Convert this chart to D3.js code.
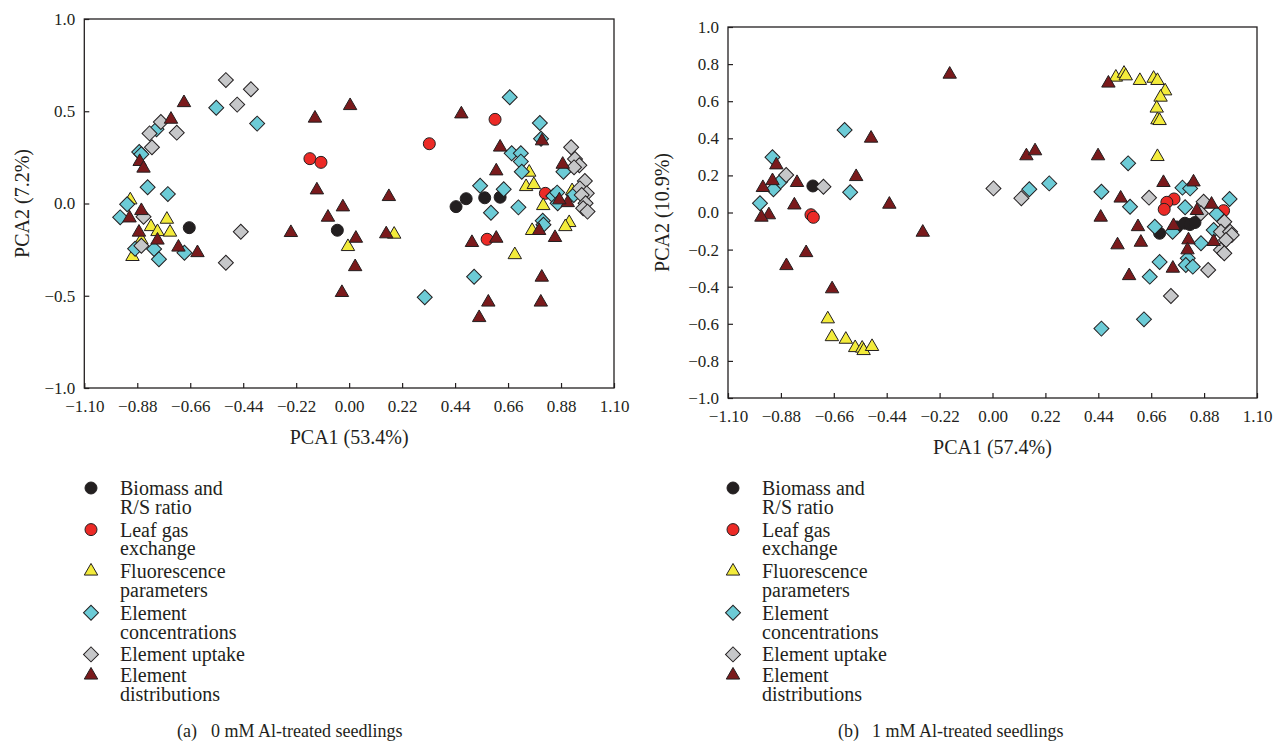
<!DOCTYPE html>
<html>
<head>
<meta charset="utf-8">
<script src="https://cdn.jsdelivr.net/npm/d3@7"></script>
<style>
  body { margin: 0; background: #fff; }
  svg { display: block; font-family: "Liberation Serif", "DejaVu Serif", serif; }
  .tick text { fill: #231f20; font-family: "Liberation Serif", "DejaVu Serif", serif; }
</style>
</head>
<body>
<svg width="1282" height="743"></svg>
<script>
// panel (a): 0 mM Al
const biomassA = [[-0.664,-0.131],[-0.049,-0.145],[0.444,-0.017],[0.486,0.026],[0.563,0.031],[0.627,0.034]];
const leafGasA = [[-0.163,0.243],[-0.117,0.223],[0.333,0.324],[0.606,0.456],[0.815,0.055],[0.573,-0.194]];
const fluorA = [[-0.909,0.019],[-0.757,-0.086],[-0.823,-0.126],[-0.796,-0.153],[-0.744,-0.156],[-0.900,-0.288],
  [-0.863,-0.198],[-0.005,-0.234],[0.187,-0.167],[0.748,0.169],[0.735,0.091],[0.767,0.102],[0.806,-0.012],
  [0.926,0.069],[0.760,-0.147],[0.914,-0.104],[0.898,-0.126],[0.688,-0.278]];
const concA = [[-0.552,0.519],[-0.382,0.433],[-0.800,0.402],[-0.872,0.279],[-0.863,0.267],[-0.837,0.088],
  [-0.753,0.051],[-0.922,-0.004],[-0.951,-0.075],[-0.889,-0.245],[-0.810,-0.247],[-0.790,-0.302],[-0.684,-0.267],
  [0.314,-0.508],[0.667,0.576],[0.792,0.436],[0.797,0.351],[0.675,0.272],[0.713,0.272],[0.713,0.227],
  [0.717,0.172],[0.890,0.172],[0.544,0.096],[0.642,0.077],[0.848,0.041],[0.864,0.059],[0.866,0.001],
  [0.589,-0.050],[0.703,-0.021],[0.804,-0.093],[0.807,-0.115],[0.519,-0.397],[0.933,0.046]];
const uptakeA = [[-0.512,0.669],[-0.408,0.619],[-0.465,0.536],[-0.782,0.442],[-0.716,0.384],[-0.829,0.380],
  [-0.819,0.305],[-0.854,-0.072],[-0.863,-0.229],[-0.450,-0.153],[-0.512,-0.321],[0.922,0.305],[0.938,0.241],
  [0.956,0.207],[0.934,0.196],[0.979,0.122],[0.958,0.082],[0.987,0.055],[0.966,0.046],[0.982,0.001],
  [0.972,-0.026],[0.990,-0.044]];
const distA = [[-0.686,0.546],[-0.740,0.456],[-0.870,0.227],[-0.854,0.191],[-0.863,-0.039],[-0.912,-0.079],
  [-0.873,-0.156],[-0.796,-0.199],[-0.709,-0.237],[-0.630,-0.267],[-0.142,0.462],[0.004,0.530],[-0.134,0.073],
  [-0.026,-0.019],[-0.088,-0.075],[-0.242,-0.158],[0.028,-0.189],[0.025,-0.343],[-0.030,-0.483],[0.165,0.037],
  [0.154,-0.165],[0.466,0.485],[0.627,0.305],[0.801,0.339],[0.887,0.212],[0.611,0.176],[0.908,0.004],
  [0.873,0.019],[0.789,-0.147],[0.855,-0.185],[0.510,-0.212],[0.611,-0.189],[0.800,-0.400],[0.578,-0.535],
  [0.796,-0.535],[0.540,-0.619]];

// panel (b): 1 mM Al
const biomassB = [[-0.747,0.143],[0.695,-0.112],[0.767,-0.078],[0.800,-0.058],[0.821,-0.065],[0.842,-0.054]];
const leafGasB = [[-0.755,-0.012],[-0.745,-0.026],[0.755,0.073],[0.725,0.055],[0.714,0.017],[0.961,0.010]];
const fluorB = [[-0.685,-0.574],[-0.668,-0.670],[-0.610,-0.684],[-0.571,-0.729],[-0.542,-0.732],[-0.536,-0.745],
  [-0.501,-0.723],[0.513,0.729],[0.547,0.750],[0.554,0.736],[0.613,0.711],[0.670,0.723],[0.686,0.711],
  [0.718,0.655],[0.699,0.621],[0.683,0.562],[0.686,0.499],[0.695,0.495],[0.686,0.301]];
const concB = [[-0.615,0.445],[-0.915,0.298],[-0.883,0.166],[-0.911,0.125],[-0.592,0.109],[-0.967,0.050],
  [0.153,0.125],[0.236,0.157],[0.564,0.265],[0.453,0.112],[0.572,0.031],[0.790,0.134],[0.822,0.130],
  [0.986,0.073],[0.801,0.028],[0.932,-0.008],[0.675,-0.077],[0.749,-0.104],[0.920,-0.094],[0.867,-0.166],
  [0.695,-0.267],[0.812,-0.247],[0.804,-0.283],[0.833,-0.292],[0.654,-0.346],[0.630,-0.576],[0.453,-0.626]];
const uptakeB = [[-0.858,0.202],[-0.703,0.139],[0.004,0.130],[0.120,0.077],[0.651,0.080],[0.878,0.058],
  [0.867,-0.004],[0.964,-0.050],[0.950,-0.104],[0.988,-0.104],[0.995,-0.121],[0.971,-0.148],[0.950,-0.202],
  [0.964,-0.220],[0.897,-0.310],[0.742,-0.450]];
const distB = [[-0.178,0.745],[0.141,0.305],[0.177,0.332],[-0.290,-0.107],[-0.505,0.400],[-0.899,0.256],
  [-0.915,0.171],[-0.813,0.161],[-0.955,0.134],[-0.567,0.193],[-0.824,0.040],[-0.429,0.044],[-0.930,-0.013],
  [-0.961,-0.026],[-0.775,-0.217],[-0.857,-0.287],[-0.667,-0.412],[0.482,0.697],[0.439,0.305],[0.711,0.161],
  [0.836,0.164],[0.533,0.077],[0.911,0.044],[0.850,0.010],[0.450,-0.026],[0.605,-0.077],[0.753,-0.071],
  [0.815,-0.148],[0.920,-0.157],[0.520,-0.175],[0.617,-0.161],[0.811,-0.202],[0.750,-0.301],[0.568,-0.341]];

const seriesNames = [["Biomass and", "R/S ratio"], ["Leaf gas", "exchange"], ["Fluorescence", "parameters"],
  ["Element", "concentrations"], ["Element uptake"], ["Element", "distributions"]];
const seriesColors = ["#231f20", "#ec2a26", "#f3eb3b", "#6ccbd6", "#c6c7c9", "#7a1a1c"];
const seriesShapes = ["circle", "circle", "triangle", "diamond", "diamond", "triangle"];

const xTicks = [-1.10, -0.88, -0.66, -0.44, -0.22, 0.00, 0.22, 0.44, 0.66, 0.88, 1.10];
const yTicksA = [-1.0, -0.5, 0.0, 0.5, 1.0];
const yTicksB = [-1.0, -0.8, -0.6, -0.4, -0.2, 0.0, 0.2, 0.4, 0.6, 0.8, 1.0];

const ink = '#231f20';
const serif = '"Liberation Serif", "DejaVu Serif", serif';
const svg = d3.select('svg');
svg.append('rect').attr('width', 1282).attr('height', 743).attr('fill', '#fff');

const symbolPath = shape => {
  if (shape === 'circle') return d3.symbol(d3.symbolCircle, 113)();
  if (shape === 'triangle') return d3.symbol(d3.symbolTriangle, 78)();
  return d3.symbol(d3.symbolSquare, 112)();
};

function panel(opt) {
  const x = d3.scaleLinear().domain([-1.1, 1.1]).range(opt.xr);
  const y = d3.scaleLinear().domain([-1, 1]).range(opt.yr);
  const g = svg.append('g');

  g.append('g')
    .attr('transform', `translate(0,${opt.yr[0]})`)
    .call(d3.axisBottom(x).tickValues(xTicks).tickFormat(d3.format('.2f'))
      .tickSizeInner(-5).tickSizeOuter(0).tickPadding(12))
    .attr('font-family', serif).attr('font-size', 17)
    .call(a => a.select('.domain').remove())
    .call(a => a.selectAll('line').attr('stroke', ink).attr('stroke-width', 1.2));

  g.append('g')
    .attr('transform', `translate(${opt.xr[0]},0)`)
    .call(d3.axisLeft(y).tickValues(opt.yTicks).tickFormat(d3.format('.1f'))
      .tickSizeInner(-5).tickSizeOuter(0).tickPadding(9))
    .attr('font-family', serif).attr('font-size', 17)
    .call(a => a.select('.domain').remove())
    .call(a => a.selectAll('line').attr('stroke', ink).attr('stroke-width', 1.2));

  g.append('rect')
    .attr('x', opt.xr[0]).attr('y', opt.yr[1])
    .attr('width', opt.xr[1] - opt.xr[0]).attr('height', opt.yr[0] - opt.yr[1])
    .attr('fill', 'none').attr('stroke', ink).attr('stroke-width', 1.3);

  opt.series.forEach((pts, i) => {
    g.append('g').selectAll('path').data(pts).enter().append('path')
      .attr('d', symbolPath(seriesShapes[i]))
      .attr('transform', d => `translate(${x(d[0])},${y(d[1])})` + (seriesShapes[i] === 'diamond' ? ' rotate(45)' : ''))
      .attr('fill', seriesColors[i])
      .attr('stroke', ink).attr('stroke-width', 1);
  });

  g.append('text')
    .attr('x', (opt.xr[0] + opt.xr[1]) / 2).attr('y', opt.yr[0] + 49)
    .attr('text-anchor', 'middle').attr('dy', '0.35em')
    .attr('font-size', 20).attr('fill', ink)
    .text(opt.xTitle);

  g.append('text')
    .attr('transform', `translate(${opt.yTitleX},${(opt.yr[0] + opt.yr[1]) / 2}) rotate(-90)`)
    .attr('text-anchor', 'middle').attr('dy', '0.35em')
    .attr('font-size', 20).attr('fill', ink)
    .text(opt.yTitle);

  // legend
  const leg = g.append('g');
  let ly = 488;
  seriesNames.forEach((lines, i) => {
    leg.append('path')
      .attr('d', symbolPath(seriesShapes[i]))
      .attr('transform', `translate(${opt.legX},${ly})` + (seriesShapes[i] === 'diamond' ? ' rotate(45)' : ''))
      .attr('fill', seriesColors[i]).attr('stroke', ink).attr('stroke-width', 1);
    lines.forEach((t, j) => {
      leg.append('text')
        .attr('x', opt.legX + 29).attr('y', ly + j * 18.7)
        .attr('dy', '0.35em').attr('font-size', 20).attr('fill', ink)
        .text(t);
    });
    ly += lines.length * 20.8;
  });

  g.append('text')
    .attr('x', opt.capX).attr('y', 731).attr('dy', '0.35em')
    .attr('font-size', 18).attr('fill', ink)
    .text(opt.capTag);
  g.append('text')
    .attr('x', opt.capX + 34).attr('y', 731).attr('dy', '0.35em')
    .attr('font-size', 18).attr('fill', ink)
    .text(opt.caption);
}

panel({
  xr: [84.3, 614], yr: [388, 19], yTicks: yTicksA,
  series: [biomassA, leafGasA, fluorA, concA, uptakeA, distA],
  xTitle: 'PCA1 (53.4%)', yTitle: 'PCA2 (7.2%)', yTitleX: 22,
  legX: 91, capX: 177, capTag: '(a)', caption: '0 mM Al-treated seedlings'
});

panel({
  xr: [728, 1257], yr: [398, 27], yTicks: yTicksB,
  series: [biomassB, leafGasB, fluorB, concB, uptakeB, distB],
  xTitle: 'PCA1 (57.4%)', yTitle: 'PCA2 (10.9%)', yTitleX: 662,
  legX: 733, capX: 838, capTag: '(b)', caption: '1 mM Al-treated seedlings'
});
</script>
</body>
</html>
